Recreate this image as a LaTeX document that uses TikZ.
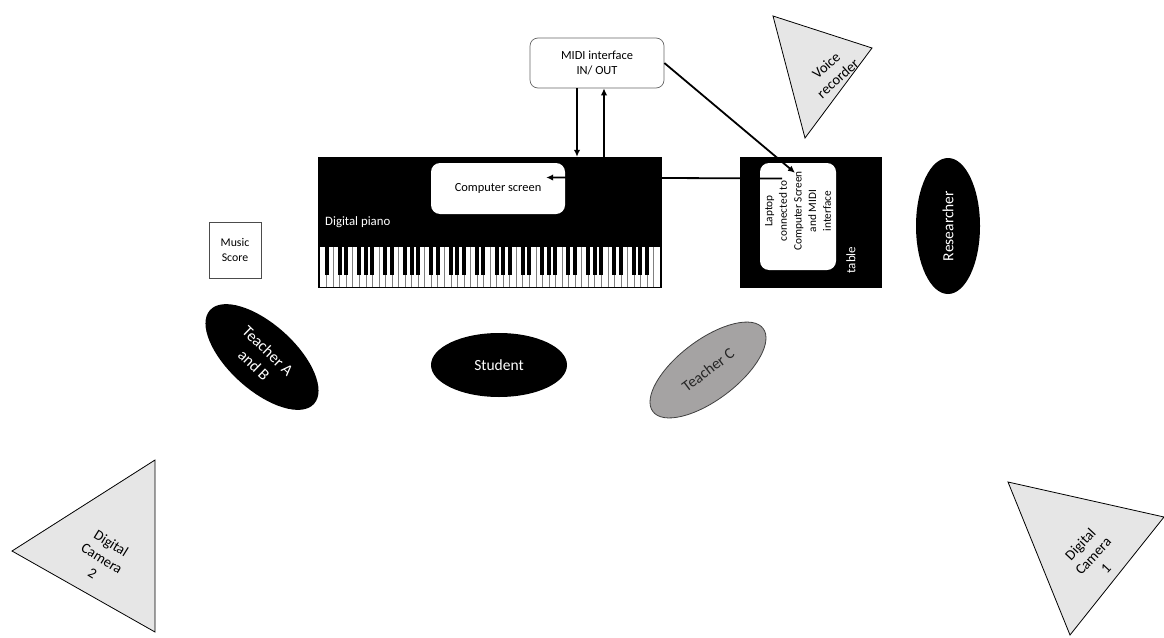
\documentclass[tikz,border=0pt]{standalone}
\usepackage{fontspec}
\setmainfont{Carlito}
\usetikzlibrary{arrows.meta,shapes.geometric,calc}
\definecolor{devgray}{HTML}{E6E6E6}
\definecolor{tcgray}{HTML}{A5A3A3}
\begin{document}
\begin{tikzpicture}[x=1pt,y=-1pt,
  every node/.style={font=\fontsize{12.4}{15}\selectfont, inner sep=0pt},
  blackbox/.style={fill=black, draw=none, rectangle},
  whitebox/.style={fill=white, draw=none, rectangle, rounded corners=9pt},
  person/.style={ellipse, fill=black, text=white, font=\fontsize{15.5}{20}\selectfont, align=center, inner sep=0pt},
  device/.style={fill=devgray, draw=black, line width=0.8pt},
  devlabel/.style={align=center, font=\fontsize{14.5}{17.5}\selectfont},
  arr/.style={line width=1.8pt, -{Latex[length=7pt,width=6.5pt]}},
]
\useasboundingbox (0,0) rectangle (1164,637);
\fill[white] (0,0) rectangle (1164,637);

% digital piano
\node[blackbox, minimum width=344pt, minimum height=131pt] (piano) at (490,222.5) {};
\fill[white] (320,247) rectangle (660,287);
\foreach \i in {1,...,51} \draw[gray, line width=0.4pt] ({320+\i*6.53846},247) -- ({320+\i*6.53846},287);
\foreach \k in {0,...,7} \foreach \j in {0,2,3,5,6} {
  \pgfmathtruncatemacro\idx{7*\k+\j}
  \ifnum\idx<51
    \fill[black] ({320+(\idx+1)*6.53846-2},247) rectangle +(4,28);
  \fi
}
\node[whitebox, minimum width=134pt, minimum height=51pt] (screen) at (498,188.5) {Computer screen};
\node[text=white, anchor=west, font=\fontsize{12.8}{15}\selectfont] (pianolabel) at (325,222) {Digital piano};

% MIDI interface
\node[draw=gray!80!black, fill=white, rounded corners=8pt, minimum width=134pt, minimum height=50pt, align=center, line width=0.7pt] (midi) at (597,63) {MIDI interface\\IN/ OUT};

% table and laptop
\node[blackbox, minimum width=142pt, minimum height=131pt] (table) at (811,222.5) {};
\node[whitebox, minimum width=76pt, minimum height=107pt] (laptop) at (798,216.5) {};
\node[rotate=90, align=center, font=\fontsize{11.3}{14.6}\selectfont] (laptoptext) at (798,211) {Laptop\\connected to\\Computer Screen\\and MIDI\\interface};
\node[rotate=90, text=white, font=\fontsize{13}{15}\selectfont] (tablelabel) at (851,260) {table};

% people
\node[person, rotate=90, minimum width=136pt, minimum height=64pt] (researcher) at (948,226) {Researcher};
\node[ellipse, fill=black, rotate=-42, minimum width=140pt, minimum height=66pt] (teacherab) at (262,357) {};
\node[text=white, align=center, rotate=-44, font=\fontsize{16}{20}\selectfont] (teacherabtext) at (261,358) {Teacher A\\and B};
\node[person, minimum width=136pt, minimum height=64pt] (student) at (499,365) {Student};
\node[person, fill=tcgray, draw=black!75, line width=0.8pt, text=black!85, rotate=37, minimum width=138pt, minimum height=60pt] (teacherc) at (708,370) {Teacher C};

% music score
\node[draw=black!70, line width=0.6pt, minimum width=52pt, minimum height=56pt, align=center, font=\fontsize{11.8}{15}\selectfont] (score) at (235,250) {Music\\Score};

% devices
\filldraw[device] (773,16) -- (872,48) -- (805,138) -- cycle;
\node[devlabel, rotate=42] (voice) at (832,72) {Voice\\recorder};
\filldraw[device] (155,460) -- (12,551) -- (155,632) -- cycle;
\node[devlabel, rotate=-32] (cam2) at (102,558) {Digital\\Camera\\2};
\filldraw[device] (1008,482) -- (1164,517) -- (1070,635) -- cycle;
\node[devlabel, rotate=47] (cam1) at (1093,556) {Digital\\Camera\\1};

% connectors
\draw[arr] ([xshift=-20pt]midi.south) -- ([xshift=-20pt]midi.south |- piano.north);
\draw[arr] ([xshift=7pt]midi.south |- piano.north) -- ([xshift=7pt]midi.south);
\draw[arr] (midi.east) -- ([xshift=-3pt,yshift=-10pt]laptop.north);
\draw[arr] ([xshift=-16pt,yshift=38pt]laptop.center) -- ([xshift=-19pt,yshift=11pt]screen.east);
\end{tikzpicture}
\end{document}
